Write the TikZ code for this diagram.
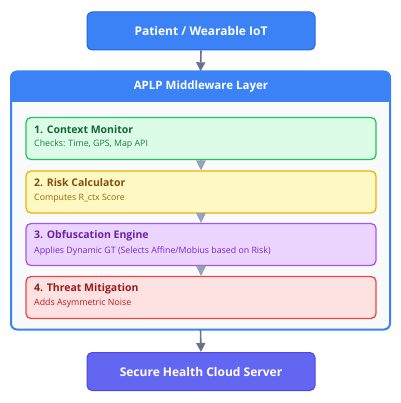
\documentclass[tikz,border=0pt]{standalone}
\usepackage{fontspec}
\setmainfont{Open Sans}
\usetikzlibrary{arrows.meta}
\definecolor{blueA}{HTML}{3B82F6}
\definecolor{blueB}{HTML}{2563EB}
\definecolor{indA}{HTML}{6366F1}
\definecolor{indB}{HTML}{4F46E5}
\definecolor{bodyF}{HTML}{F8FAFC}
\definecolor{arrG}{HTML}{64748B}
\definecolor{arrL}{HTML}{94A3B8}
\definecolor{gF}{HTML}{DCFCE7}\definecolor{gD}{HTML}{22C55E}\definecolor{gT}{HTML}{166534}\definecolor{gS}{HTML}{15803D}
\definecolor{yF}{HTML}{FEF9C3}\definecolor{yD}{HTML}{EAB308}\definecolor{yT}{HTML}{854D0E}\definecolor{yS}{HTML}{A16207}
\definecolor{pF}{HTML}{EBD5FF}\definecolor{pD}{HTML}{A855F7}\definecolor{pT}{HTML}{6B21A8}\definecolor{pS}{HTML}{7E22CE}
\definecolor{rF}{HTML}{FEE2E2}\definecolor{rD}{HTML}{EF4444}\definecolor{rT}{HTML}{991B1B}\definecolor{rS}{HTML}{B91C1C}
\begin{document}
\begin{tikzpicture}[x=1pt,y=-1pt,
  endbox/.style={rectangle,rounded corners=5pt,line width=1pt,minimum width=228pt,minimum height=38pt,inner sep=0pt,text=white,font=\fontsize{12}{14}\selectfont\bfseries},
  stagebox/.style={rectangle,rounded corners=5pt,line width=1.3pt,minimum width=350pt,minimum height=42pt,inner sep=0pt},
  ttl/.style={anchor=west,inner sep=0pt,font=\fontsize{10.5}{12}\selectfont\bfseries},
  sub/.style={anchor=west,inner sep=0pt,font=\fontsize{8.8}{10}\selectfont},
  bigarr/.style={draw=arrG,line width=1.6pt,-{Triangle[length=9pt,width=9pt]}},
  smallarr/.style={draw=arrL,line width=1.6pt,-{Triangle[length=10pt,width=9.5pt]}}]
\useasboundingbox (0,0) rectangle (400,403);
% top and bottom
\node[endbox,fill=blueA,draw=blueB] (iot) at (201,31) {Patient / Wearable IoT};
\node[endbox,fill=indA,draw=indB] (cloud) at (201,371.5) {Secure Health Cloud Server};
% middleware
\node[rectangle,rounded corners=6pt,fill=bodyF,minimum width=379pt,minimum height=258pt,inner sep=0pt] (mw) at (200.5,200.5) {};
\begin{scope}
\clip[rounded corners=6pt] (11,71.5) rectangle (390,329.5);
\fill[blueA] (11,71.5) rectangle (390,102);
\end{scope}
\draw[blueA,line width=2pt,rounded corners=6pt] (11,71.5) rectangle (390,329.5);
\node[text=white,font=\fontsize{11.5}{14}\selectfont\bfseries,inner sep=0pt] (hdr) at (201,87) {APLP Middleware Layer};
% stages
\node[stagebox,fill=gF,draw=gD] (s1) at (201,138.5) {};
\node[stagebox,fill=yF,draw=yD] (s2) at (201,192) {};
\node[stagebox,fill=pF,draw=pD] (s3) at (201,244.5) {};
\node[stagebox,fill=rF,draw=rD] (s4) at (201,297.5) {};
\node[ttl,text=gT] (t1) at (34,129.5) {1. Context Monitor};
\node[sub,text=gS] (u1) at (34,144.5) {Checks: Time, GPS, Map API};
\node[ttl,text=yT] (t2) at (34,182.5) {2. Risk Calculator};
\node[sub,text=yS] (u2) at (34,198) {Computes R\_ctx Score};
\node[ttl,text=pT] (t3) at (34,236) {3. Obfuscation Engine};
\node[sub,text=pS] (u3) at (34,251) {Applies Dynamic GT (Selects Affine/Mobius based on Risk)};
\node[ttl,text=rT] (t4) at (34,288.5) {4. Threat Mitigation};
\node[sub,text=rS] (u4) at (34,303.5) {Adds Asymmetric Noise};
% arrows
\draw[bigarr] (iot.south) -- (mw.north);
\draw[bigarr] (mw.south) -- (cloud.north);
\draw[smallarr] (s1.south) -- (s2.north);
\draw[smallarr] (s2.south) -- (s3.north);
\draw[smallarr] (s3.south) -- (s4.north);
\end{tikzpicture}
\end{document}
